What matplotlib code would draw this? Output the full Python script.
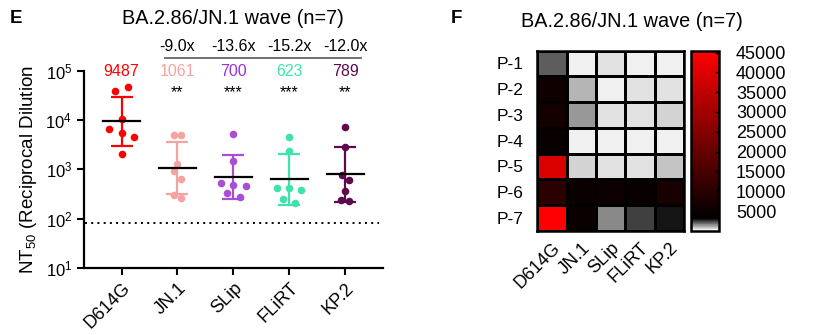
import numpy as np
import matplotlib
matplotlib.use('Agg')
import matplotlib.pyplot as plt
from matplotlib.colors import LinearSegmentedColormap, Normalize
from matplotlib.ticker import FixedLocator, NullLocator

plt.rcParams['font.family'] = ['Liberation Sans', 'DejaVu Sans']
plt.rcParams['mathtext.default'] = 'regular'

# data
variants = ['D614G', 'JN.1', 'SLip', 'FLiRT', 'KP.2']
patients = ['P-1', 'P-2', 'P-3', 'P-4', 'P-5', 'P-6', 'P-7']
# NT50 per patient (rows) and variant (columns)
nt50 = np.array([
    [2090, 300, 475, 209, 239],
    [5570, 940, 336, 411, 368],
    [6700, 1290, 530, 411, 608],
    [4630, 261, 280, 246, 231],
    [39200, 645, 460, 380, 780],
    [10600, 4930, 5250, 4630, 7180],
    [46600, 5080, 1500, 2400, 2890],
])
gmt_labels = ['9487', '1061', '700', '623', '789']
fold_labels = ['-9.0x', '-13.6x', '-15.2x', '-12.0x']
stars = ['**', '***', '***', '**']
lod = 80
cbar_ticks = [5000, 10000, 15000, 20000, 25000, 30000, 35000, 40000, 45000]

colors = ['#ff0000', '#f4a3a0', '#a94fd6', '#3ee3ab', '#5e0a4c']
text_colors = ['#ff0000', '#f4a3a0', '#9a2fd8', '#3ee3ab', '#5e0a4c']

# horizontal jitter of the dots (fraction of category spacing)
jitter = np.array([
    [0.0, -0.066, 0.0, 0.107, -0.077],
    [0.0, -0.061, -0.113, -0.227, 0.0],
    [-0.221, 0.0, -0.227, 0.0, 0.071],
    [0.22, 0.071, 0.113, -0.12, 0.059],
    [-0.114, 0.071, 0.227, 0.214, -0.059],
    [0.0, -0.061, 0.0, 0.0, 0.0],
    [0.118, 0.071, 0.0, 0.0, 0.0],
])

fig = plt.figure(figsize=(8.16, 3.35), dpi=100)

# ---- panel E ----
ax = fig.add_axes([0.103, 0.2009, 0.366, 0.587])
ax.set_yscale('log')
ax.set_ylim(10, 1e5)
ax.set_xlim(-0.67, 4.67)

for i in range(len(variants)):
    vals = nt50[:, i]
    logs = np.log10(vals)
    gm = 10 ** logs.mean()
    sd = logs.std(ddof=1)
    ax.scatter(i + jitter[:, i], vals, s=30, color=colors[i], zorder=3, linewidths=0)
    ax.errorbar(i, gm, yerr=[[gm - 10 ** (logs.mean() - sd)], [10 ** (logs.mean() + sd) - gm]],
                fmt='none', ecolor=colors[i], elinewidth=1.6, capsize=8, capthick=1.6, zorder=2)
    ax.plot([i - 0.33, i + 0.33], [gm, gm], color='black', lw=1.6, zorder=4)
    ax.text(i, 1e5, gmt_labels[i], color=text_colors[i], ha='center', va='center',
            fontsize=11.5, clip_on=False)

for i, (f, s) in enumerate(zip(fold_labels, stars)):
    ax.text(i + 1, 3.1e5, f, ha='center', va='center', fontsize=11.5, clip_on=False)
    ax.text(i + 1, 3.6e4, s, ha='center', va='center', fontsize=11.5, clip_on=False)
ax.plot([0.78, 4.28], [1.87e5, 1.87e5], color='#666666', lw=1.3, clip_on=False)

ax.plot([-0.65, 4.6], [lod, lod], color='black', ls=(0, (1, 2.2)), lw=1.4)

ax.set_xticks(range(len(variants)))
ax.set_xticklabels(variants, rotation=45, ha='right', rotation_mode='anchor', fontsize=13)
ax.yaxis.set_major_locator(FixedLocator([10, 100, 1000, 1e4, 1e5]))
ax.yaxis.set_minor_locator(NullLocator())
ax.set_yticklabels(['10$^{1}$', '10$^{2}$', '10$^{3}$', '10$^{4}$', '10$^{5}$'], fontsize=12)
ax.tick_params(width=1.5, length=5, direction='out')
ax.spines['top'].set_visible(False)
ax.spines['right'].set_visible(False)
ax.spines['left'].set_linewidth(1.6)
ax.spines['bottom'].set_linewidth(1.6)
ax.set_ylabel('NT$_{50}$ (Reciprocal Dilution', fontsize=13.5)
ax.yaxis.set_label_coords(-0.15, 0.5)

fig.text(0.285, 0.945, 'BA.2.86/JN.1 wave (n=7)', ha='center', va='center', fontsize=14.3)
fig.text(0.012, 0.945, 'E', fontsize=13.5, fontweight='bold', va='center')

# ---- panel F ----
cmap = LinearSegmentedColormap.from_list(
    'wbr', [(0.0, 'white'), (0.068, 'black'), (1.0, '#ff0000')])
norm = Normalize(vmin=0, vmax=45500)

hx = fig.add_axes([0.6585, 0.311, 0.1795, 0.538])
mesh = hx.pcolormesh(nt50, cmap=cmap, norm=norm, edgecolors='black', linewidth=1.8)
hx.set_xlim(0, len(variants))
hx.set_ylim(len(patients), 0)
hx.set_xticks(np.arange(len(variants)) + 0.5)
hx.set_xticklabels(variants, rotation=45, ha='right', rotation_mode='anchor', fontsize=13)
hx.set_yticks(np.arange(len(patients)) + 0.5)
hx.set_yticklabels(patients, fontsize=12.5)
hx.tick_params(length=0, pad=10, axis='y')
hx.tick_params(length=0, pad=6, axis='x')
for sp in hx.spines.values():
    sp.set_linewidth(1.8)

cax = fig.add_axes([0.847, 0.311, 0.0345, 0.538])
cb = fig.colorbar(mesh, cax=cax)
cb.set_ticks(cbar_ticks)
cb.set_ticklabels([str(t) for t in cbar_ticks])
cb.ax.tick_params(labelsize=13, direction='in', length=3, width=1, pad=12)
cb.outline.set_linewidth(1.8)

fig.text(0.774, 0.935, 'BA.2.86/JN.1 wave (n=7)', ha='center', va='center', fontsize=14.3)
fig.text(0.553, 0.945, 'F', fontsize=13.5, fontweight='bold', va='center')

fig.savefig('out.png', dpi=100)
